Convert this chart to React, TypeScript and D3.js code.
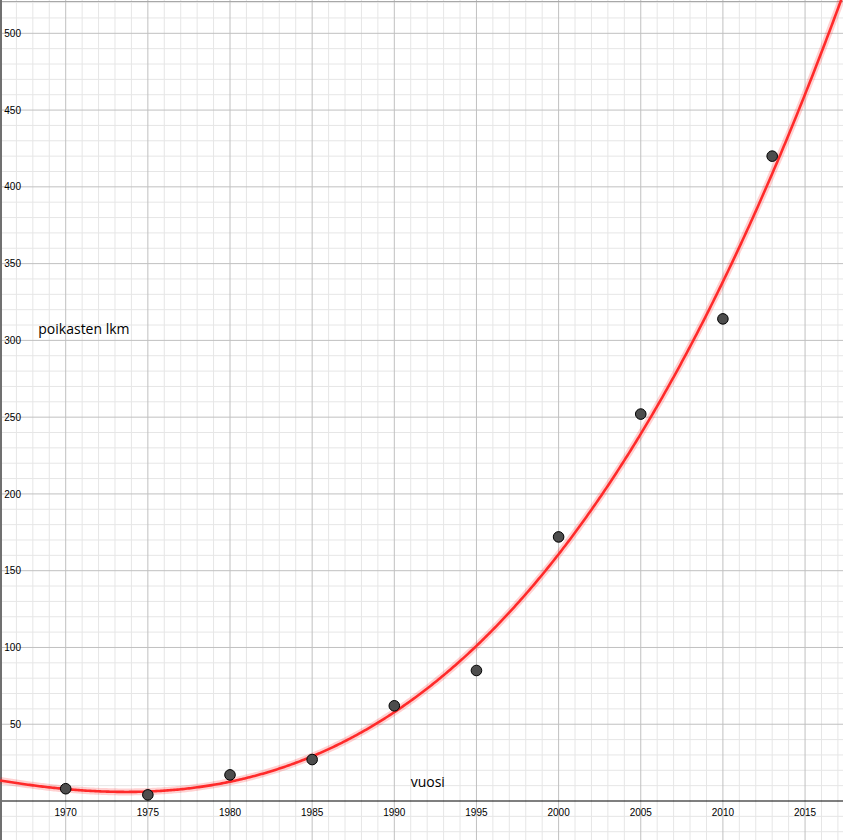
import React from "react";
import * as d3 from "d3";

const W = 843;
const H = 840;

// data points (year, number of chicks)
const years = [1970, 1975, 1980, 1985, 1990, 1995, 2000, 2005, 2010, 2013];
const counts = [8, 4, 17, 27, 62, 85, 172, 252, 314, 420];

const xTickYears = [1970, 1975, 1980, 1985, 1990, 1995, 2000, 2005, 2010, 2015];
const yTickValues = [50, 100, 150, 200, 250, 300, 350, 400, 450, 500];

const xLabel = "vuosi";
const yLabel = "poikasten lkm";

// least-squares cubic fit of the data points (like FitPoly[points, 3])
function fitPoly(xs: number[], ys: number[], deg: number, x0: number) {
  const n = deg + 1;
  const A: number[][] = Array.from({ length: n }, () => new Array(n + 1).fill(0));
  for (let k = 0; k < xs.length; k++) {
    const u = (xs[k] - x0) / 10;
    for (let i = 0; i < n; i++) {
      for (let j = 0; j < n; j++) A[i][j] += Math.pow(u, i + j);
      A[i][n] += ys[k] * Math.pow(u, i);
    }
  }
  for (let i = 0; i < n; i++) {
    let p = i;
    for (let r = i + 1; r < n; r++) if (Math.abs(A[r][i]) > Math.abs(A[p][i])) p = r;
    [A[i], A[p]] = [A[p], A[i]];
    for (let r = 0; r < n; r++) {
      if (r === i) continue;
      const f = A[r][i] / A[i][i];
      for (let c = i; c <= n; c++) A[r][c] -= f * A[i][c];
    }
  }
  const coef = A.map((row, i) => row[n] / row[i]);
  return (x: number) => {
    const u = (x - x0) / 10;
    let s = 0;
    for (let i = n - 1; i >= 0; i--) s = s * u + coef[i];
    return s;
  };
}

export default function App() {
  const pxPerYear = 16.43;
  const x0px = 65.7;
  const x = d3
    .scaleLinear()
    .domain([1970 - x0px / pxPerYear, 1970 + (W - x0px) / pxPerYear])
    .range([0, W]);
  const pxPerUnit = 1.5354;
  const axisY = 801;
  const y = d3
    .scaleLinear()
    .domain([-(H - axisY) / pxPerUnit, axisY / pxPerUnit])
    .range([H, 0]);

  const [xmin, xmax] = x.domain();
  const [ymin, ymax] = y.domain();
  const minorX = d3.range(Math.ceil(xmin), Math.floor(xmax) + 1, 1).filter((v) => v % 5 !== 0);
  const majorX = d3.range(Math.ceil(xmin / 5) * 5, xmax, 5);
  const minorY = d3.range(Math.ceil(ymin / 10) * 10, ymax, 10).filter((v) => v % 50 !== 0);
  const majorY = d3.range(Math.ceil(ymin / 50) * 50, ymax, 50).filter((v) => v !== 0);

  const f = fitPoly(years, counts, 3, 1990);
  const samples = d3.range(xmin, xmax + 0.05, 0.1);
  const line = d3
    .line<number>()
    .x((t) => x(t))
    .y((t) => y(f(t)));
  const path = line(samples) || "";

  const tickFont = "'Liberation Sans', Arial, sans-serif";
  const labelFont = "'Open Sans', 'Noto Sans', sans-serif";

  return (
    <svg
      width={W}
      height={H}
      style={{ position: "absolute", left: 0, top: 0, background: "#fff" }}
    >
      <defs>
        <clipPath id="clip">
          <rect x={0} y={0} width={W} height={H} />
        </clipPath>
      </defs>
      <rect x={0} y={0} width={W} height={H} fill="#fff" />
      {minorX.map((v) => (
        <line key={"mx" + v} x1={x(v)} x2={x(v)} y1={0} y2={H} stroke="#e6e6e6" strokeWidth={1} />
      ))}
      {minorY.map((v) => (
        <line key={"my" + v} x1={0} x2={W} y1={y(v)} y2={y(v)} stroke="#e6e6e6" strokeWidth={1} />
      ))}
      {majorX.map((v) => (
        <line key={"MX" + v} x1={x(v)} x2={x(v)} y1={0} y2={H} stroke="#c0c0c0" strokeWidth={1} />
      ))}
      {majorY.map((v) => (
        <line key={"MY" + v} x1={0} x2={W} y1={y(v)} y2={y(v)} stroke="#c0c0c0" strokeWidth={1} />
      ))}
      {/* x axis */}
      <line x1={0} x2={W} y1={y(0)} y2={y(0)} stroke="#000" strokeWidth={1.2} />
      {/* borders */}
      <line x1={0} x2={W} y1={1.5} y2={1.5} stroke="#a8a8a8" strokeWidth={1} />
      <line x1={1} x2={1} y1={0} y2={H} stroke="#707070" strokeWidth={2} />

      {xTickYears.map((v) => (
        <text
          key={"xt" + v}
          x={x(v)}
          y={y(0) + 15}
          textAnchor="middle"
          fontFamily={tickFont}
          fontSize={10}
          fill="#000"
        >
          {v}
        </text>
      ))}
      {yTickValues.map((v) => (
        <text
          key={"yt" + v}
          x={21}
          y={y(v) + 3.6}
          textAnchor="end"
          fontFamily={tickFont}
          fontSize={10}
          fill="#000"
        >
          {v}
        </text>
      ))}

      <text x={38.3} y={334.3} fontFamily={labelFont} fontSize={14} fill="#000">
        {yLabel}
      </text>
      <text x={410.7} y={786.7} fontFamily={labelFont} fontSize={14} fill="#000">
        {xLabel}
      </text>

      <g clipPath="url(#clip)">
        <path d={path} fill="none" stroke="rgba(255,0,0,0.18)" strokeWidth={7} />
        <path d={path} fill="none" stroke="#ff2a2a" strokeWidth={2.6} />
      </g>

      {years.map((yr, i) => (
        <circle
          key={"p" + yr}
          cx={x(yr)}
          cy={y(counts[i])}
          r={5.3}
          fill="#4d4d4d"
          stroke="#000"
          strokeWidth={1}
        />
      ))}
    </svg>
  );
}
